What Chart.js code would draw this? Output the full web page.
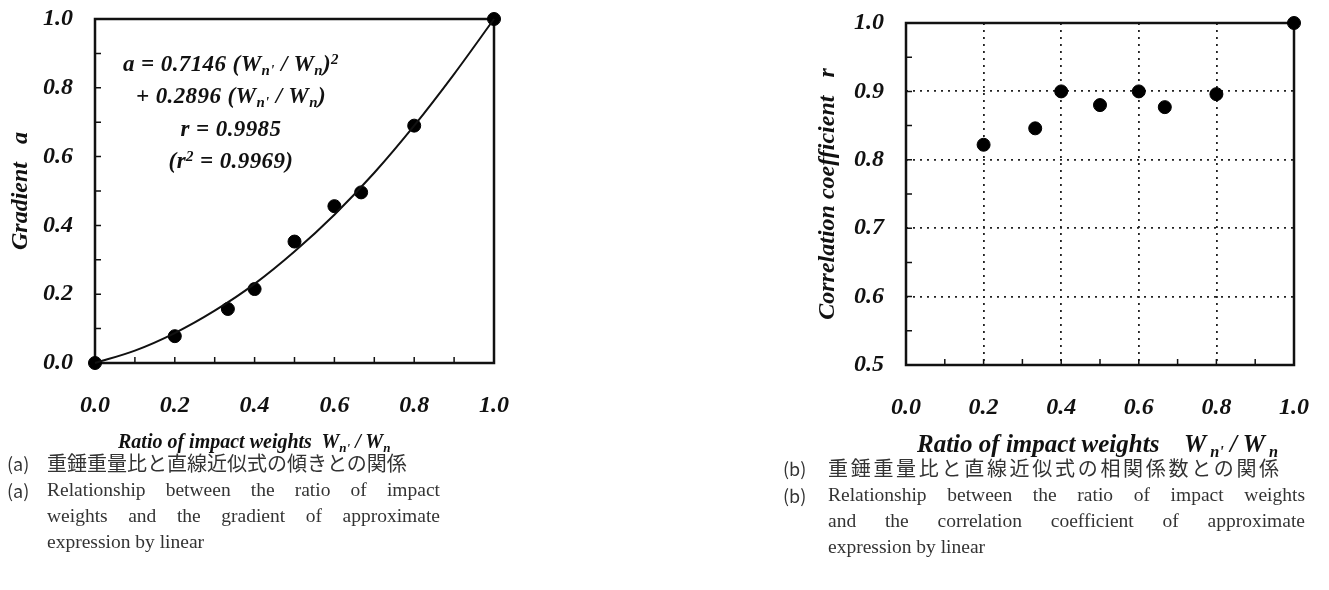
<!DOCTYPE html>
<html lang="ja">
<head>
<meta charset="utf-8">
<script src="https://cdn.jsdelivr.net/npm/chart.js@4"></script>
<style>
body { margin: 0; background: #fff; width: 1329px; height: 590px; position: relative; overflow: hidden; color: #111; font-family: 'Liberation Serif', serif; }
canvas { position: absolute; }
sub, sup { line-height: 0; font-size: 0.65em; }
sub { vertical-align: -0.3em; }
sup { vertical-align: 0.45em; }
.ecuacion { position: absolute; left: 91px; width: 280px; top: 48px; text-align: center; font: italic bold 23px 'Liberation Serif'; letter-spacing: 0.4px; line-height: 32.4px; }
.tituloX { position: absolute; font: italic bold 20px 'Liberation Serif'; white-space: pre; }
.tituloX.ancho sub { margin-left: 4px; }
.pie { position: absolute; color: #333; }
.fila { display: flex; }
.etq { width: 40px; flex: none; font-family: 'Noto Sans CJK JP'; font-size: 18px; }
.jp { font-family: 'Noto Sans CJK JP'; font-size: 20px; line-height: 28px; }
.en { font-size: 19.5px; line-height: 26px; }
.just { text-align: justify; text-align-last: justify; }
</style>
</head>
<body>
<canvas id="graficoA" width="544" height="460" style="left:0; top:-21px"></canvas>
<canvas id="graficoB" width="544" height="460" style="left:800px; top:-17px"></canvas>

<div class="ecuacion">
  <div>a = 0.7146 (W<sub>n'</sub> / W<sub>n</sub>)<sup>2</sup></div>
  <div>+ 0.2896 (W<sub>n'</sub> / W<sub>n</sub>)</div>
  <div>r = 0.9985</div>
  <div>(r<sup>2</sup> = 0.9969)</div>
</div>

<div class="tituloX" style="left:118px; top:430px">Ratio of impact weights  W<sub>n'</sub> / W<sub>n</sub></div>
<div class="tituloX ancho" style="left:917px; top:430px; font-size:25px">Ratio of impact weights    W<sub>n'</sub> / W<sub>n</sub></div>

<div class="pie" style="left:7px; top:449px; width:440px">
  <div class="fila jp"><span class="etq">(a)</span><span>重錘重量比と直線近似式の傾きとの関係</span></div>
  <div class="fila en"><span class="etq">(a)</span><span class="just" style="width:393px">Relationship between the ratio of impact</span></div>
  <div class="fila en"><span class="etq"></span><span class="just" style="width:393px">weights and the gradient of approximate</span></div>
  <div class="fila en"><span class="etq"></span><span>expression by linear</span></div>
</div>

<div class="pie" style="left:783px; top:454px; width:530px">
  <div class="fila jp"><span class="etq" style="width:45px">(b)</span><span style="letter-spacing:2.7px">重錘重量比と直線近似式の相関係数との関係</span></div>
  <div class="fila en"><span class="etq" style="width:45px">(b)</span><span class="just" style="width:477px">Relationship between the ratio of impact weights</span></div>
  <div class="fila en"><span class="etq" style="width:45px"></span><span class="just" style="width:477px">and the correlation coefficient of approximate</span></div>
  <div class="fila en"><span class="etq" style="width:45px"></span><span>expression by linear</span></div>
</div>

<script>
// (a) gradiente a
const xPuntosA = [0, 0.2, 0.333, 0.4, 0.5, 0.6, 0.667, 0.8, 1.0];
const yPuntosA = [0, 0.078, 0.157, 0.215, 0.353, 0.456, 0.496, 0.69, 1.0];
const xCurvaA = [0, 0.1, 0.2, 0.3, 0.4, 0.5, 0.6, 0.7, 0.8, 0.9, 1.0];
const yCurvaA = [0, 0.036, 0.087, 0.152, 0.23, 0.324, 0.431, 0.553, 0.69, 0.84, 1.0];

// (b) coeficiente de correlacion r
const xPuntosB = [0.2, 0.333, 0.4, 0.5, 0.6, 0.667, 0.8, 1.0];
const yPuntosB = [0.822, 0.846, 0.9, 0.88, 0.9, 0.877, 0.896, 1.0];

const xEtiquetas = [0, 0.2, 0.4, 0.6, 0.8, 1.0];
const xMenores = [0.1, 0.3, 0.5, 0.7, 0.9];
const yEtiquetasA = [0, 0.2, 0.4, 0.6, 0.8, 1.0];
const yMenoresA = [0.1, 0.3, 0.5, 0.7, 0.9];
const yEtiquetasB = [0.5, 0.6, 0.7, 0.8, 0.9, 1.0];
const yMenoresB = [0.55, 0.65, 0.75, 0.85, 0.95];
const xRejillaB = [0.2, 0.4, 0.6, 0.8];
const yRejillaB = [0.6, 0.7, 0.8, 0.9];

const fuenteEjes = { family: 'Liberation Serif', size: 24, style: 'italic', weight: 'bold' };
const fuenteTitulo = { family: 'Liberation Serif', size: 24, style: 'italic', weight: 'bold' };

function pares(xs, ys) {
    return xs.map((x, i) => ({ x: x, y: ys[i] }));
}

function todasLasMarcas(etiquetas, menores) {
    return etiquetas.concat(menores).sort((a, b) => a - b).map(v => ({ value: v }));
}

const marco = {
    id: 'marco',
    beforeDatasetsDraw(chart) {
        const { ctx, chartArea: a, scales } = chart;
        ctx.save();
        ctx.strokeStyle = '#111';
        ctx.lineWidth = 2.5;
        ctx.strokeRect(a.left, a.top, a.right - a.left, a.bottom - a.top);
        ctx.lineWidth = 1.5;
        ctx.beginPath();
        scales.x.ticks.forEach(t => {
            const px = scales.x.getPixelForValue(t.value);
            ctx.moveTo(px, a.bottom);
            ctx.lineTo(px, a.bottom - 6);
        });
        scales.y.ticks.forEach(t => {
            const py = scales.y.getPixelForValue(t.value);
            ctx.moveTo(a.left, py);
            ctx.lineTo(a.left + 6, py);
        });
        ctx.stroke();
        ctx.restore();
    }
};

function ejeX(rejilla, alto) {
    return {
        type: 'linear',
        min: 0,
        max: 1,
        afterBuildTicks: s => { s.ticks = todasLasMarcas(xEtiquetas, xMenores); },
        afterFit: s => { s.height = alto; },
        ticks: {
            autoSkip: false,
            maxRotation: 0,
            padding: 28,
            color: '#111',
            font: fuenteEjes,
            callback: v => xEtiquetas.includes(v) ? v.toFixed(1) : ''
        },
        grid: {
            drawTicks: false,
            lineWidth: 1.8,
            color: c => (c.tick && rejilla.includes(c.tick.value)) ? '#222' : 'transparent'
        },
        border: { display: false, dash: [2, 5] }
    };
}

function ejeY(min, max, etiquetas, menores, rejilla, ancho, titulo, margenTitulo) {
    return {
        type: 'linear',
        min: min,
        max: max,
        afterBuildTicks: s => { s.ticks = todasLasMarcas(etiquetas, menores); },
        afterFit: s => { s.width = ancho; },
        ticks: {
            autoSkip: false,
            padding: 22,
            color: '#111',
            font: fuenteEjes,
            callback: v => etiquetas.includes(v) ? v.toFixed(1) : ''
        },
        grid: {
            drawTicks: false,
            lineWidth: 1.8,
            color: c => (c.tick && rejilla.includes(c.tick.value)) ? '#222' : 'transparent'
        },
        border: { display: false, dash: [2, 5] },
        title: {
            display: true,
            text: titulo,
            color: '#111',
            font: fuenteTitulo,
            padding: { top: margenTitulo, bottom: 0 }
        }
    };
}

const comunes = {
    responsive: false,
    animation: false,
    plugins: { legend: { display: false }, tooltip: { enabled: false } }
};

new Chart(document.getElementById('graficoA').getContext('2d'), {
    type: 'scatter',
    data: {
        datasets: [
            {
                data: pares(xCurvaA, yCurvaA),
                showLine: true,
                cubicInterpolationMode: 'monotone',
                borderColor: '#111',
                borderWidth: 2,
                pointRadius: 0,
                clip: false
            },
            {
                data: pares(xPuntosA, yPuntosA),
                backgroundColor: '#000',
                borderColor: '#000',
                pointRadius: 6.5,
                clip: false
            }
        ]
    },
    options: Object.assign({}, comunes, {
        layout: { padding: { top: 40, right: 50, left: 0, bottom: 0 } },
        scales: {
            x: ejeX([], 76),
            y: ejeY(0, 1, yEtiquetasA, yMenoresA, [], 95, 'Gradient   a', 6)
        }
    }),
    plugins: [marco]
});

new Chart(document.getElementById('graficoB').getContext('2d'), {
    type: 'scatter',
    data: {
        datasets: [
            {
                data: pares(xPuntosB, yPuntosB),
                backgroundColor: '#000',
                borderColor: '#000',
                pointRadius: 6.5,
                clip: false
            }
        ]
    },
    options: Object.assign({}, comunes, {
        layout: { padding: { top: 40, right: 50, left: 0, bottom: 0 } },
        scales: {
            x: ejeX(xRejillaB, 78),
            y: ejeY(0.5, 1, yEtiquetasB, yMenoresB, yRejillaB, 106, 'Correlation coefficient   r', 13)
        }
    }),
    plugins: [marco]
});
</script>
</body>
</html>
